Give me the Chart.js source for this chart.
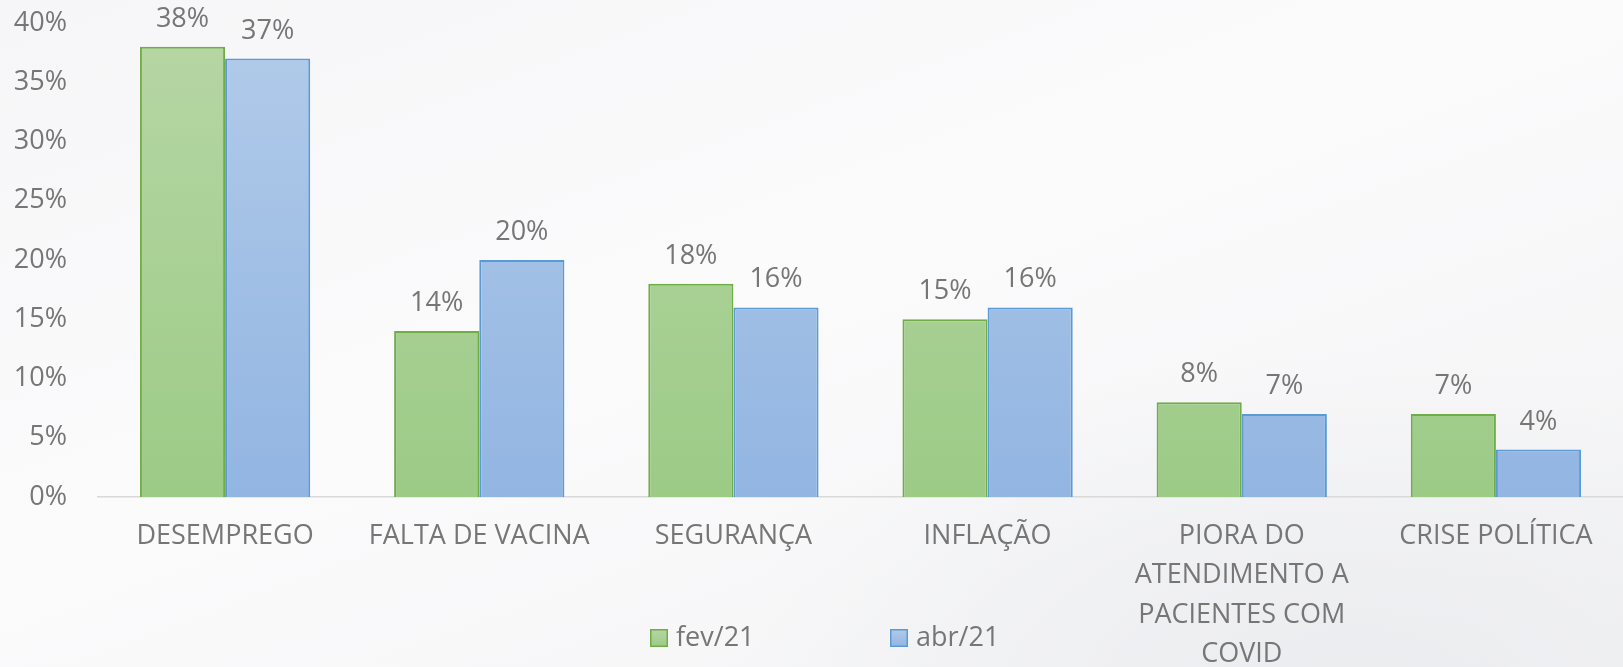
<!DOCTYPE html>
<html><head><meta charset="utf-8">
<script src="https://cdn.jsdelivr.net/npm/chart.js@4.4.0/dist/chart.umd.min.js"></script>
<style>
html,body{margin:0;padding:0;width:1623px;height:667px;overflow:hidden;
background:
 radial-gradient(ellipse 900px 500px at 1350px 700px, rgba(235,236,239,1) 0%, rgba(247,247,249,0) 70%),
 linear-gradient(160deg,#f6f6f8 0%,#fbfbfc 45%,#f3f3f5 100%);}
#wrap{position:absolute;left:0;top:0;width:1623px;height:667px;}
</style></head><body>
<div id="wrap"><canvas id="c" width="1623" height="667"></canvas></div>
<script>
const categories = ['DESEMPREGO','FALTA DE VACINA','SEGURANÇA','INFLAÇÃO',['PIORA DO','ATENDIMENTO A','PACIENTES COM','COVID'],'CRISE POLÍTICA'];
const seriesNames = ['fev/21','abr/21'];
const fev21 = [38,14,18,15,8,7];
const abr21 = [37,20,16,16,7,4];
const yTicks = [0,5,10,15,20,25,30,35,40];

const FONT = "'Open Sans', 'Liberation Sans', sans-serif";
const TXT = '#767676';
const FS = 27;

function grad(ctx, top, bottom){
  const ch = ctx.chart; const a = ch.chartArea;
  if(!a) return bottom;
  const g = ch.ctx.createLinearGradient(0,a.top,0,a.bottom);
  g.addColorStop(0,top); g.addColorStop(1,bottom); return g;
}

const labelPlugin = {
  id:'valueLabels',
  afterDatasetsDraw(chart){
    const ctx = chart.ctx;
    ctx.save();
    ctx.font = FS+'px ' + FONT; ctx.fillStyle = TXT;
    ctx.textAlign='center'; ctx.textBaseline='alphabetic';
    chart.data.datasets.forEach((ds,i)=>{
      chart.getDatasetMeta(i).data.forEach((el,j)=>{
        ctx.fillText(ds.data[j]+'%', el.x, el.y - 20);
      });
    });
    ctx.restore();
  }
};

const legendPlugin = {
  id:'customLegend',
  afterDraw(chart){
    const ctx = chart.ctx;
    ctx.save();
    ctx.font = FS+'px ' + FONT; ctx.textBaseline='middle'; ctx.textAlign='left';
    const xs = [650, 890]; const y = 638;
    chart.data.datasets.forEach((ds,i)=>{
      const x = xs[i];
      const g = ctx.createLinearGradient(0,y-9,0,y+9);
      g.addColorStop(0, ds._top); g.addColorStop(1, ds._bot);
      ctx.fillStyle = g; ctx.fillRect(x,y-9,18,18);
      ctx.strokeStyle = ds.borderColor; ctx.lineWidth=1.5; ctx.strokeRect(x+0.75,y-8.25,16.5,16.5);
      ctx.fillStyle = TXT; ctx.fillText(ds.label, x+26, y);
    });
    ctx.restore();
  }
};

new Chart(document.getElementById('c'),{
  type:'bar',
  data:{
    labels:categories,
    datasets:[
      {label:seriesNames[0], data:fev21, _top:'#b7d6a5', _bot:'#9ccb86',
       backgroundColor:c=>grad(c,'#b7d6a5','#9ccb86'), borderColor:'#70ad47', borderWidth:2},
      {label:seriesNames[1], data:abr21, _top:'#b2cbe9', _bot:'#92b5e2',
       backgroundColor:c=>grad(c,'#b2cbe9','#92b5e2'), borderColor:'#5b9bd5', borderWidth:2}
    ]
  },
  options:{
    responsive:false, animation:false,
    layout:{padding:{top:23,left:0,right:0,bottom:0}},
    datasets:{bar:{categoryPercentage:0.67, barPercentage:1.0}},
    plugins:{legend:{display:false}, tooltip:{enabled:false}},
    scales:{
      x:{grid:{display:false, drawTicks:false}, border:{display:true,color:'#d9d9d9',width:1.5},
         afterFit(s){ s.height = 170; s.paddingLeft = 0; s.paddingRight = 0; },
         ticks:{color:TXT, padding:20, font:{family:FONT,size:FS,lineHeight:1.45}, maxRotation:0, autoSkip:false}},
      y:{min:0,max:40, grid:{display:false, drawTicks:false}, border:{display:false},
         afterFit(s){ s.width = 98; s.paddingTop = 0; s.paddingBottom = 0; },
         afterBuildTicks(s){ s.ticks = yTicks.map(v=>({value:v})); },
         ticks:{color:TXT, padding:31, font:{family:FONT,size:FS}, callback:v=>v+'%'}}
    }
  },
  plugins:[labelPlugin, legendPlugin]
});
</script>
</body></html>
